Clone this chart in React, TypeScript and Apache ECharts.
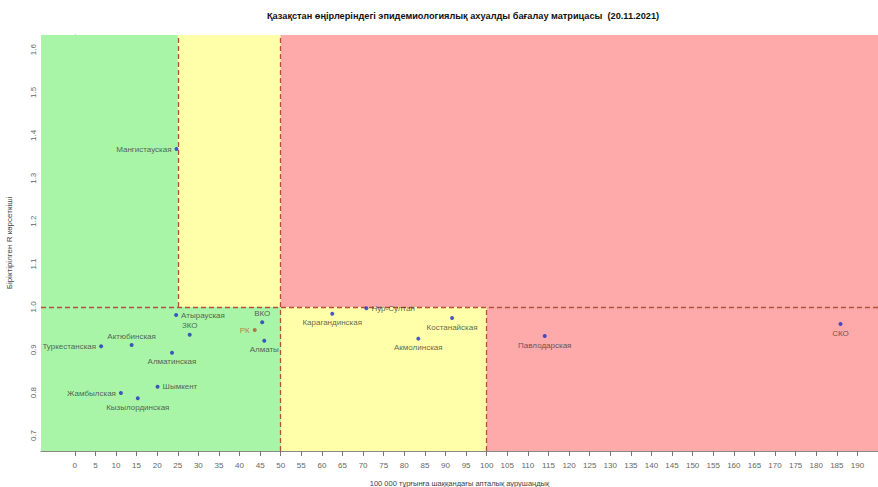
import React, { useEffect, useRef } from "react";
import * as echarts from "echarts";

const regionNames = [
  "Мангистауская", "Атырауская", "ЗКО", "Актюбинская", "Туркестанская",
  "Алматинская", "Шымкент", "Жамбылская", "Кызылординская", "ВКО", "РК",
  "Алматы", "Карагандинская", "Нур-Султан", "Костанайская", "Акмолинская",
  "Павлодарская", "СКО",
];
const incidence = [
  24.7, 24.6, 27.9, 13.8, 6.4,
  23.6, 20.1, 11.2, 15.3, 45.5, 43.7,
  46.0, 62.5, 70.8, 91.6, 83.4,
  114.1, 185.9,
];
const rValues = [
  1.368, 0.981, 0.935, 0.911, 0.908,
  0.893, 0.814, 0.799, 0.787, 0.964, 0.946,
  0.921, 0.984, 0.997, 0.974, 0.926,
  0.932, 0.960,
];
const xTicks = [0, 5, 10, 15, 20, 25, 30, 35, 40, 45, 50, 55, 60, 65, 70, 75, 80, 85, 90, 95, 100, 105, 110, 115, 120, 125, 130, 135, 140, 145, 150, 155, 160, 165, 170, 175, 180, 185, 190];
const yTicks = [0.7, 0.8, 0.9, 1.0, 1.1, 1.2, 1.3, 1.4, 1.5, 1.6];
const xThresholds = [25, 50, 100];
const rThreshold = 1.0;

const titleText = "Қазақстан өңірлеріндегі эпидемиологиялық ахуалды бағалау матрицасы  (20.11.2021)";
const xName = "100 000 тұрғынға шаққандағы апталық аурушаңдық";
const yName = "Біріктірілген R көрсеткіші";

const labelPositions: Record<string, string> = {
  "Мангистауская": "left", "Атырауская": "right", "ЗКО": "top", "Актюбинская": "top",
  "Туркестанская": "left", "Алматинская": "bottom", "Шымкент": "right", "Жамбылская": "left",
  "Кызылординская": "bottom", "ВКО": "top", "РК": "left", "Алматы": "bottom",
  "Карагандинская": "bottom", "Нур-Султан": "right", "Костанайская": "bottom",
  "Акмолинская": "bottom", "Павлодарская": "bottom", "СКО": "bottom",
};

const X_MIN = -8.2;
const X_MAX = 195;
const Y_MIN = 0.664;
const Y_MAX = 1.634;
const FONT = "Liberation Sans, Arial, sans-serif";

export default function App() {
  const ref = useRef<HTMLDivElement>(null);
  useEffect(() => {
    if (!ref.current) return;
    const chart = echarts.init(ref.current, undefined, { renderer: "svg" });
    const [t1, t2, t3] = xThresholds;
    const green = "#a8f5a8";
    const yellow = "#ffffaa";
    const red = "#ffaaaa";
    const area = (x0: number, y0: number, x1: number, y1: number, color: string) => [
      { coord: [x0, y0], itemStyle: { color, borderWidth: 0 } },
      { coord: [x1, y1] },
    ];
    const points = regionNames.map((name, i) => {
      const isRK = name === "РК";
      return {
        name,
        value: [incidence[i], rValues[i]],
        itemStyle: { color: isRK ? "#b0582a" : "#1f2fc0" },
        label: {
          show: true,
          position: labelPositions[name],
          distance: 3,
          formatter: name,
          color: isRK ? "#b8682e" : "#3a3a3a",
          fontSize: 8,
          fontFamily: FONT,
        },
      };
    });
    chart.setOption({
      animation: false,
      title: {
        text: titleText,
        left: 262,
        top: 6,
        textStyle: { fontSize: 9.2, fontWeight: "bold", color: "#111", fontFamily: FONT },
      },
      grid: { left: 41, right: 0, top: 35, bottom: 36, containLabel: false, outerBoundsMode: "none" },
      xAxis: {
        type: "value",
        min: X_MIN,
        max: X_MAX,
        name: xName,
        nameLocation: "middle",
        nameGap: 28,
        nameTextStyle: { fontSize: 7.5, color: "#444", fontFamily: FONT },
        axisLine: { show: true, lineStyle: { color: "#8a8a8a" } },
        axisTick: { show: true, customValues: xTicks, length: 5, lineStyle: { color: "#777" } },
        axisLabel: { customValues: xTicks, fontSize: 8, color: "#666", margin: 10, fontFamily: FONT },
        splitLine: { show: false },
      },
      yAxis: {
        type: "value",
        min: Y_MIN,
        max: Y_MAX,
        name: yName,
        nameLocation: "middle",
        nameGap: 28,
        nameTextStyle: { fontSize: 8, color: "#444", fontFamily: FONT },
        axisLine: { show: true, lineStyle: { color: "#8a8a8a" } },
        axisTick: { show: true, customValues: yTicks, length: 5, lineStyle: { color: "#777" } },
        axisLabel: {
          customValues: yTicks,
          rotate: 90,
          fontSize: 8,
          color: "#666",
          margin: 4,
          fontFamily: FONT,
          formatter: (v: number) => v.toFixed(1),
        },
        splitLine: { show: false },
      },
      series: [
        {
          type: "scatter",
          data: [],
          silent: true,
          z: 1,
          markArea: {
            silent: true,
            label: { show: false },
            data: [
              area(X_MIN, Y_MIN, X_MAX, Y_MAX, green),
              area(t1, rThreshold, t2, Y_MAX, yellow),
              area(t2, Y_MIN, t3, rThreshold, yellow),
              area(t2, rThreshold, X_MAX, Y_MAX, red),
              area(t3, Y_MIN, X_MAX, rThreshold, red),
            ],
          },
          markLine: {
            silent: true,
            symbol: ["none", "none"],
            label: { show: false },
            lineStyle: { type: [5, 3], color: "#b4503a", width: 1.3 },
            data: [
              [{ coord: [t1, rThreshold] }, { coord: [t1, Y_MAX] }],
              [{ coord: [t2, Y_MIN] }, { coord: [t2, Y_MAX] }],
              [{ coord: [t3, Y_MIN] }, { coord: [t3, rThreshold] }],
              [{ coord: [X_MIN, rThreshold] }, { coord: [X_MAX, rThreshold] }],
            ],
          },
        },
        {
          type: "scatter",
          symbol: "circle",
          symbolSize: 4,
          z: 5,
          data: points,
        },
      ],
    });
    return () => chart.dispose();
  }, []);
  return (
    <div
      ref={ref}
      style={{ position: "fixed", left: 0, top: 0, width: 878, height: 487, background: "#fff" }}
    />
  );
}
